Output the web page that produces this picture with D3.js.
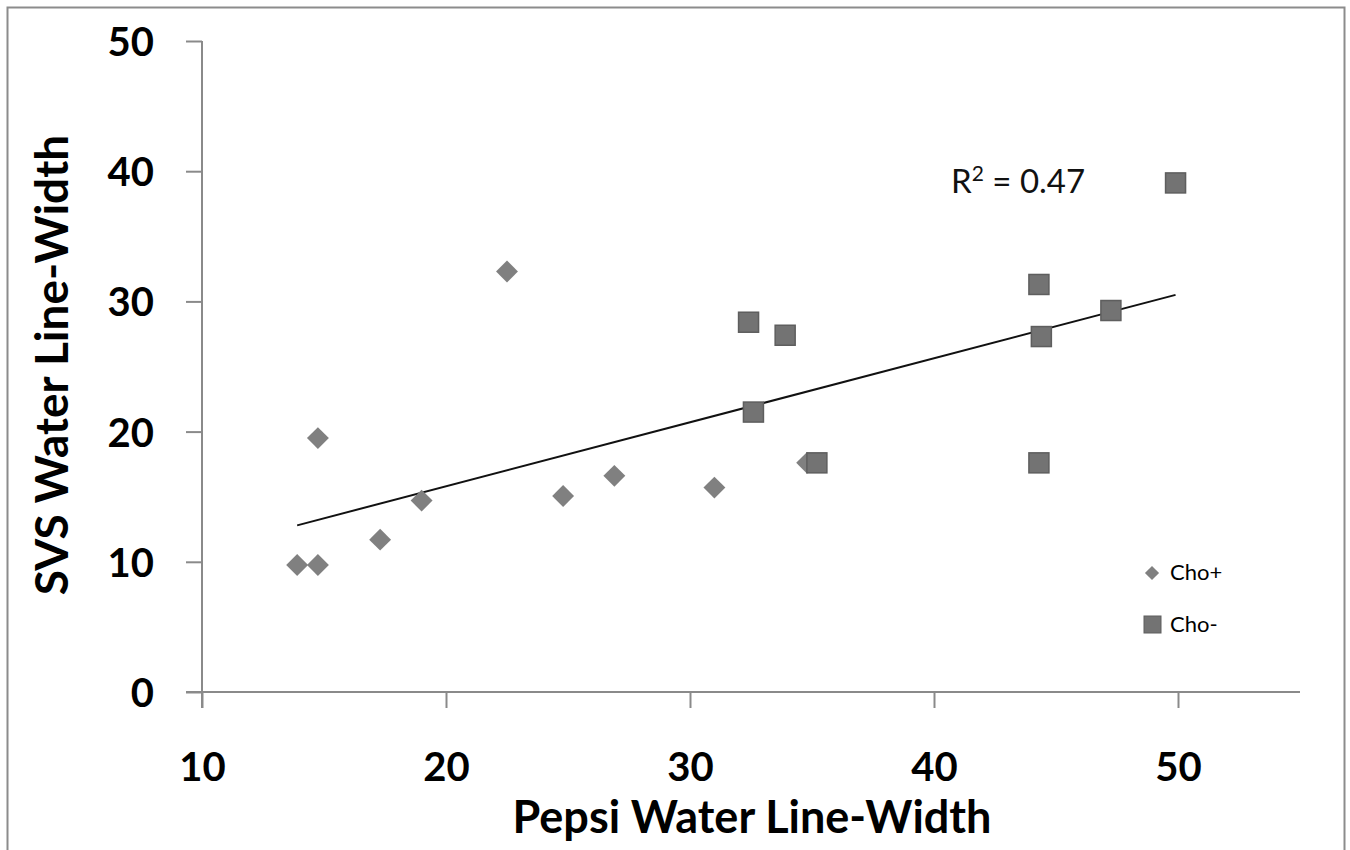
<!DOCTYPE html>
<html>
<head>
<meta charset="utf-8">
<script src="https://cdn.jsdelivr.net/npm/d3@7"></script>
<style>
  body { margin: 0; background: #fff; }
  svg { font-family: Lato, "Open Sans", sans-serif; }
</style>
</head>
<body>
<script>
// Cho+ (diamonds)
var choPlusX = [13.9, 14.75, 14.75, 17.3, 19.0, 22.5, 24.8, 26.9, 31.0, 34.8]
var choPlusY = [9.75, 9.75, 19.5, 11.7, 14.7, 32.3, 15.05, 16.6, 15.7, 17.6]
// Cho- (squares)
var choMinusX = [32.4, 32.6, 33.9, 35.2, 44.3, 44.4, 44.3, 47.25, 49.9]
var choMinusY = [28.4, 21.5, 27.4, 17.6, 31.3, 27.3, 17.6, 29.3, 39.1]
// linear trend end points
var trendX = [13.9, 49.9]
var trendY = [12.8, 30.5]
var xTicks = [10, 20, 30, 40, 50]
var yTicks = [0, 10, 20, 30, 40, 50]

var width = 1350, height = 850

var svg = d3.select("body").append("svg")
    .attr("width", width)
    .attr("height", height)

// outer frame
svg.append("rect")
    .attr("x", 7.5).attr("y", 7.5)
    .attr("width", 1337).attr("height", 900)
    .attr("fill", "none").attr("stroke", "#8c8c8c").attr("stroke-width", 2)

var x = d3.scaleLinear().domain([10, 55]).range([202, 1300])
var y = d3.scaleLinear().domain([0, 50]).range([692, 41])

var xAxis = svg.append("g")
    .attr("transform", "translate(0," + y(0) + ")")
    .call(d3.axisBottom(x).tickValues(xTicks).tickSize(16).tickPadding(44).tickSizeOuter(0))
xAxis.select(".domain").attr("d", "M" + (x(10) - 16) + ",0H" + x(55))

var yAxis = svg.append("g")
    .attr("transform", "translate(" + x(10) + ",0)")
    .call(d3.axisLeft(y).tickValues(yTicks).tickSize(16).tickPadding(32).tickSizeOuter(0))
yAxis.select(".domain").attr("d", "M0," + y(50) + "V" + (y(0) + 16))

svg.selectAll(".domain, .tick line").attr("stroke", "#8a8a8a").attr("stroke-width", 2)
svg.selectAll(".tick text")
    .attr("font-family", "Lato, sans-serif")
    .attr("font-size", 40).attr("font-weight", "bold").attr("fill", "#000")
yAxis.selectAll(".tick text").attr("dy", "0.36em")
xAxis.selectAll(".tick text").attr("dy", "0.72em")

// trend line
svg.append("line")
    .attr("x1", x(trendX[0])).attr("y1", y(trendY[0]))
    .attr("x2", x(trendX[1])).attr("y2", y(trendY[1]))
    .attr("stroke", "#111").attr("stroke-width", 2)

var diamond = d3.symbol().type(d3.symbolSquare).size(240)

svg.append("g").selectAll("path")
    .data(choPlusX.map((d, i) => [d, choPlusY[i]]))
    .join("path")
    .attr("d", diamond)
    .attr("transform", d => "translate(" + x(d[0]) + "," + y(d[1]) + ") rotate(45)")
    .attr("fill", "#808080")

svg.append("g").selectAll("rect")
    .data(choMinusX.map((d, i) => [d, choMinusY[i]]))
    .join("rect")
    .attr("x", d => x(d[0]) - 10).attr("y", d => y(d[1]) - 10)
    .attr("width", 20).attr("height", 20)
    .attr("fill", "#737373").attr("stroke", "#5e5e5e").attr("stroke-width", 1.5)

// R squared label
svg.append("text")
    .attr("x", 951).attr("y", 193)
    .attr("font-size", 33).attr("fill", "#111")
    .html("R<tspan dy='-12' font-size='21'>2</tspan><tspan dy='12'> = 0.47</tspan>")

// legend
var leg = svg.append("g")
leg.append("path")
    .attr("d", d3.symbol().type(d3.symbolSquare).size(100))
    .attr("transform", "translate(1152,573) rotate(45)")
    .attr("fill", "#808080")
leg.append("rect")
    .attr("x", 1144).attr("y", 616).attr("width", 17).attr("height", 17)
    .attr("fill", "#737373").attr("stroke", "#5e5e5e")
leg.append("text").attr("x", 1170).attr("y", 580).attr("font-size", 22).text("Cho+")
leg.append("text").attr("x", 1170).attr("y", 632).attr("font-size", 22).text("Cho-")

// axis titles
svg.append("text")
    .attr("x", 752).attr("y", 833)
    .attr("text-anchor", "middle")
    .attr("font-size", 45).attr("font-weight", "bold")
    .text("Pepsi Water Line-Width")

svg.append("text")
    .attr("transform", "translate(68,365) rotate(-90)")
    .attr("text-anchor", "middle")
    .attr("font-size", 46).attr("font-weight", "bold")
    .text("SVS Water Line-Width")
</script>
</body>
</html>
